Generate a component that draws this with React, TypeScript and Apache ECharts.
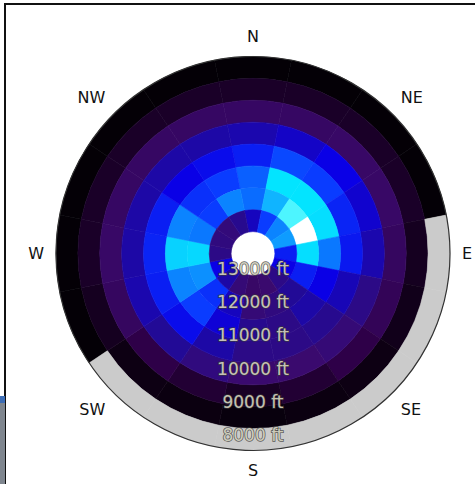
import { useEffect, useRef } from 'react';
import * as echarts from 'echarts';

// 16 aspect sectors, clockwise from north
const ASPECTS = ['N', 'NNE', 'NE', 'ENE', 'E', 'ESE', 'SE', 'SSE', 'S', 'SSW', 'SW', 'WSW', 'W', 'WNW', 'NW', 'NNW'];
const COMPASS_LABELS = ['N', 'NE', 'E', 'SE', 'S', 'SW', 'W', 'NW'];

// elevation band edges in metres; the radial axis runs from the top (centre) down to the lowest edge (rim)
const ELEVATION_EDGES_M = [2300, 2500, 2700, 2900, 3100, 3300, 3500, 3700, 3900];
const ELEVATION_TOP_M = 4100;
const ELEVATION_TICKS_FT = [8000, 9000, 10000, 11000, 12000, 13000];

// normalised intensity per aspect, one array per 200 m band (null = no terrain in that band)
const BAND_2300 = [0.02, 0.02, 0.02, 0.02, null, null, null, null, null, null, null, 0.02, 0.02, 0.02, 0.02, 0.02];
const BAND_2500 = [0.12, 0.12, 0.12, 0.12, 0.1, 0.08, 0.06, 0.05, 0.04, 0.05, 0.06, 0.1, 0.12, 0.12, 0.12, 0.12];
const BAND_2700 = [0.27, 0.27, 0.28, 0.28, 0.26, 0.24, 0.2, 0.15, 0.11, 0.15, 0.2, 0.26, 0.28, 0.27, 0.27, 0.27];
const BAND_2900 = [0.43, 0.46, 0.5, 0.47, 0.43, 0.36, 0.32, 0.3, 0.3, 0.34, 0.4, 0.43, 0.42, 0.42, 0.42, 0.42];
const BAND_3100 = [0.55, 0.62, 0.6, 0.56, 0.54, 0.44, 0.38, 0.36, 0.36, 0.42, 0.52, 0.55, 0.56, 0.55, 0.5, 0.52];
const BAND_3300 = [0.66, 0.88, 0.88, 0.87, 0.7, 0.5, 0.42, 0.36, 0.38, 0.48, 0.6, 0.72, 0.85, 0.72, 0.58, 0.6];
const BAND_3500 = [0.68, 0.8, 0.93, 1.0, 0.87, 0.55, 0.4, 0.34, 0.32, 0.45, 0.58, 0.74, 0.86, 0.7, 0.6, 0.72];
const BAND_3700 = [0.45, 0.6, 0.72, 0.76, 0.55, 0.5, 0.36, 0.3, 0.28, 0.32, 0.42, 0.5, 0.36, 0.34, 0.33, 0.38];

const BANDS = [BAND_2300, BAND_2500, BAND_2700, BAND_2900, BAND_3100, BAND_3300, BAND_3500, BAND_3700];

const COLOR_STOPS = [
  '#000000', '#150020', '#2e0048', '#3a0a6e', '#220a96', '#0a00e6',
  '#0a3cff', '#0a78ff', '#10b4ff', '#00f0ff', '#ffffff',
];
const MISSING_COLOR = '#cbcbcb';

const SECTOR_WIDTH = 360 / ASPECTS.length;
const FT_TO_M = 0.3048;

function buildCells() {
  const filled: (number)[][] = [];
  const missing: number[][] = [];
  BANDS.forEach((band, bi) => {
    const low = ELEVATION_EDGES_M[bi];
    const high = ELEVATION_EDGES_M[bi + 1];
    band.forEach((v, ai) => {
      const angle = ai * SECTOR_WIDTH;
      if (v === null) missing.push([angle, low, high]);
      else filled.push([angle, low, high, v]);
    });
  });
  return { filled, missing };
}

function sectorItem(params: any, api: any, fill: string) {
  const cs = params.coordSys;
  const angle = api.value(0) as number;
  const low = api.value(1) as number;
  const high = api.value(2) as number;
  const angleOf = (p: number[]) => Math.atan2(p[1] - cs.cy, p[0] - cs.cx);
  const radiusOf = (p: number[]) => Math.hypot(p[0] - cs.cx, p[1] - cs.cy);
  const pMid = api.coord([low, angle]);
  const pEdge = api.coord([low, angle + SECTOR_WIDTH / 2]);
  let half = angleOf(pEdge) - angleOf(pMid);
  while (half > Math.PI) half -= 2 * Math.PI;
  while (half < -Math.PI) half += 2 * Math.PI;
  half = Math.abs(half);
  const mid = angleOf(pMid);
  const rOuter = radiusOf(pMid);
  const rInner = radiusOf(api.coord([high, angle]));
  return {
    type: 'sector',
    shape: {
      cx: cs.cx,
      cy: cs.cy,
      r0: Math.min(rInner, rOuter),
      r: Math.max(rInner, rOuter),
      startAngle: mid - half,
      endAngle: mid + half,
      clockwise: true,
    },
    style: { fill, stroke: fill, lineWidth: 0.6 },
  };
}

export default function App() {
  const ref = useRef<HTMLDivElement>(null);

  useEffect(() => {
    if (!ref.current) return;
    const chart = echarts.init(ref.current, null, { renderer: 'svg' });
    const { filled, missing } = buildCells();

    chart.setOption({
      animation: false,
      backgroundColor: '#ffffff',
      polar: { center: [253, 253.5], radius: 197 },
      angleAxis: {
        type: 'value',
        min: 0,
        max: 360,
        interval: 45,
        startAngle: 90,
        clockwise: true,
        z: 5,
        axisLine: { show: true, lineStyle: { color: '#333333', width: 1.2 } },
        axisTick: { show: false },
        splitLine: { show: false },
        axisLabel: {
          margin: 12,
          color: '#111111',
          fontSize: 16,
          fontFamily: 'DejaVu Sans',
          formatter: (v: number) => (v >= 360 ? '' : COMPASS_LABELS[Math.round(v / 45) % 8]),
        },
      },
      radiusAxis: {
        type: 'value',
        min: ELEVATION_EDGES_M[0],
        max: ELEVATION_TOP_M,
        inverse: true,
        axisLine: { show: false },
        axisTick: { show: false },
        axisLabel: { show: false },
        splitLine: { show: false },
      },
      visualMap: {
        type: 'continuous',
        show: false,
        min: 0,
        max: 1,
        dimension: 3,
        seriesIndex: 0,
        inRange: { color: COLOR_STOPS },
      },
      graphic: [
        {
          type: 'rect',
          shape: { x: 5, y: 4, width: 520, height: 520 },
          style: { fill: 'none', stroke: '#111111', lineWidth: 2 },
          silent: true,
        },
        {
          type: 'rect',
          shape: { x: 0, y: 396, width: 5, height: 88 },
          style: { fill: '#7f868f' },
          silent: true,
        },
        {
          type: 'rect',
          shape: { x: 0, y: 396, width: 5, height: 7 },
          style: { fill: '#3d6db5' },
          silent: true,
        },
      ],
      series: [
        {
          type: 'custom',
          coordinateSystem: 'polar',
          data: filled,
          renderItem: (params: any, api: any) => sectorItem(params, api, api.visual('color')),
          z: 2,
        },
        {
          type: 'custom',
          coordinateSystem: 'polar',
          data: missing,
          renderItem: (params: any, api: any) => sectorItem(params, api, MISSING_COLOR),
          z: 2,
        },
        {
          type: 'scatter',
          coordinateSystem: 'polar',
          symbolSize: 0.1,
          itemStyle: { color: 'rgba(0,0,0,0)' },
          z: 10,
          data: ELEVATION_TICKS_FT.map((ft) => ({ value: [ft * FT_TO_M, 180], name: `${ft} ft` })),
          label: {
            show: true,
            position: 'inside',
            formatter: (p: any) => p.name,
            color: '#eeebd6',
            fontSize: 17,
            fontFamily: 'DejaVu Sans',
            textBorderColor: '#3a3a3a',
            textBorderWidth: 1.5,
          },
        },
      ],
    });

    return () => chart.dispose();
  }, []);

  return (
    <div
      ref={ref}
      style={{ position: 'fixed', left: 0, top: 0, width: 475, height: 484 }}
    />
  );
}
